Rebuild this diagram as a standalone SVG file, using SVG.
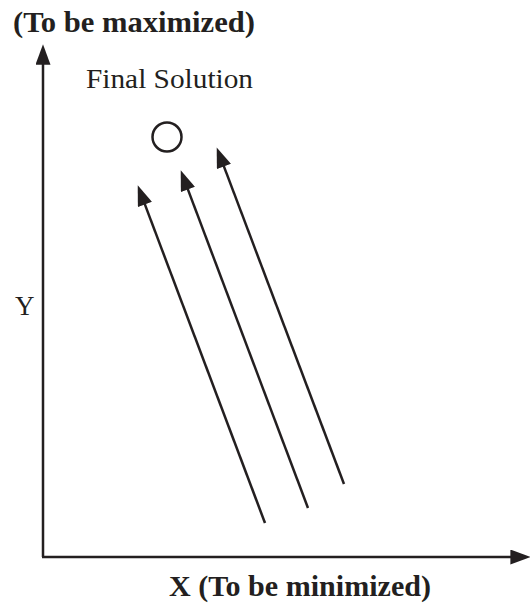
<svg xmlns="http://www.w3.org/2000/svg" width="530" height="603" viewBox="0 0 530 603">
  <style>
    .ln { stroke: #231f20; stroke-width: 2.5; fill: none; marker-end: url(#ah); }
    .lbl { font-family: "Liberation Serif", "Times New Roman", Times, serif; fill: #231f20; }
    .b { font-weight: bold; }
  </style>
  <defs>
    <marker id="ah" markerUnits="userSpaceOnUse" markerWidth="21" markerHeight="15" viewBox="0 0 19 14" refX="9" refY="7" orient="auto">
      <path d="M0,0 L19,7 L0,14 z" fill="#231f20"/>
    </marker>
  </defs>
  <rect width="530" height="603" fill="#ffffff"/>
  <g id="axes">
    <line class="ln" x1="43" y1="557" x2="43" y2="55"/>
    <line class="ln" x1="42" y1="557" x2="520" y2="557"/>
  </g>
  <g id="connectors">
    <line class="ln" x1="265" y1="523" x2="141.5" y2="195.4"/>
    <line class="ln" x1="308" y1="508" x2="184.5" y2="180.4"/>
    <line class="ln" x1="344" y1="484" x2="220.5" y2="157.4"/>
  </g>
  <g id="final-solution">
    <circle cx="167" cy="137" r="14.5" fill="none" stroke="#231f20" stroke-width="2.5"/>
    <text class="lbl" x="86" y="88" font-size="28" textLength="167" lengthAdjust="spacingAndGlyphs">Final Solution</text>
  </g>
  <g id="y-label">
    <text class="lbl b" x="13" y="32" font-size="29" textLength="242" lengthAdjust="spacingAndGlyphs">(To be maximized)</text>
    <text class="lbl" x="15" y="315" font-size="27">Y</text>
  </g>
  <g id="x-label">
    <text class="lbl b" x="169" y="596" font-size="29" textLength="262" lengthAdjust="spacingAndGlyphs">X (To be minimized)</text>
  </g>
</svg>
